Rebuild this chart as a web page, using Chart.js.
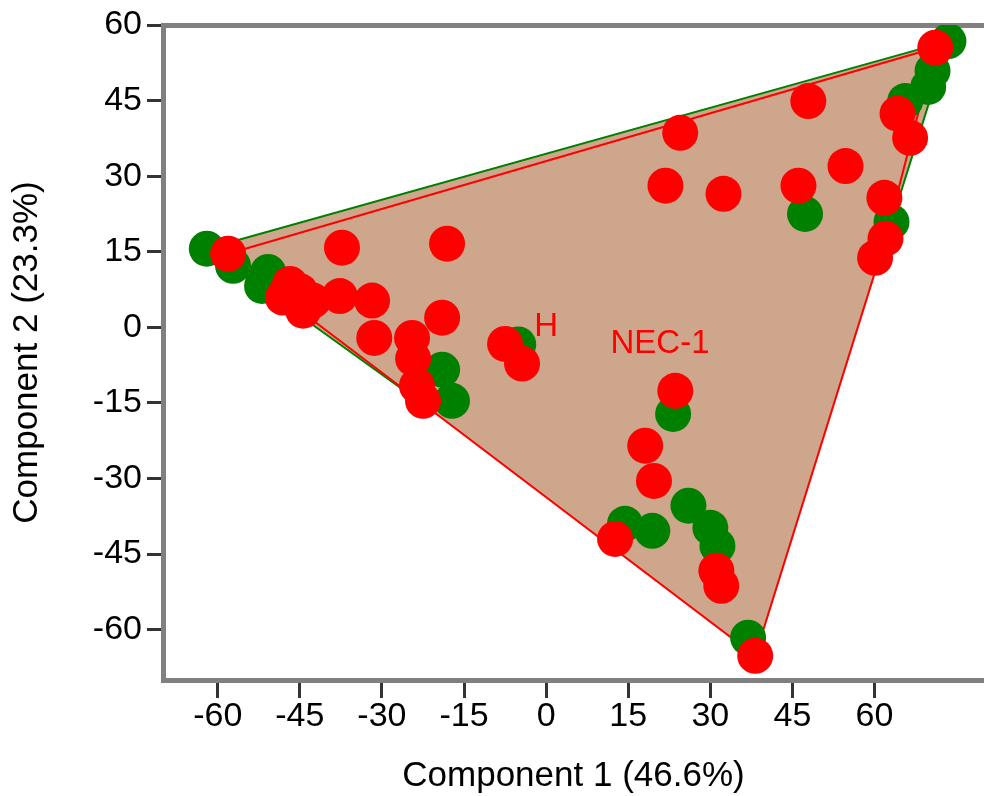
<!DOCTYPE html>
<html>
<head>
<meta charset="utf-8">
<script src="https://cdn.jsdelivr.net/npm/chart.js@4.4.0/dist/chart.umd.min.js"></script>
<style>
  html, body { margin: 0; padding: 0; background: #fff; }
  #wrap { width: 984px; height: 796px; position: relative; }
</style>
</head>
<body>
<div id="wrap"><canvas id="pca-chart"></canvas></div>
<script>
//Component scores, NEC-1 group (red)
const redX = [-58.1, -46.8, -45.0, -48.1, -44.4, -42.6, -37.7, -37.3, -31.8, -31.4,
  -18.1, -19.0, -24.5, -24.3, -23.6, -22.5, -7.5, -4.4, 23.6, 18.1,
  19.7, 12.6, 31.1, 32.0, 38.2, 24.5, 21.8, 32.4, 47.9, 46.1,
  54.7, 61.8, 62.0, 60.1, 64.2, 66.5, 71.1];
const redY = [14.6, 8.6, 7.2, 5.9, 3.3, 5.3, 6.2, 15.8, 5.3, -2.1,
  16.6, 1.9, -2.1, -6.2, -11.6, -14.6, -3.3, -7.2, -12.6, -23.5,
  -30.5, -42.0, -48.3, -51.3, -65.2, 38.6, 28.1, 26.5, 44.9, 28.1,
  32.0, 25.7, 17.6, 13.8, 42.4, 37.6, 55.5];

//Component scores, H group (green)
const greenX = [-62.0, -57.2, -50.8, -51.9, -19.0, -17.2, -5.1, 23.2, 14.4, 19.4,
  26.0, 30.0, 31.3, 36.9, 47.3, 63.1, 65.6, 70.6, 69.8, 73.5];
const greenY = [15.6, 12.2, 11.0, 8.2, -8.4, -14.6, -3.4, -17.2, -39.0, -40.4,
  -35.4, -39.8, -43.4, -61.6, 22.5, 20.9, 44.9, 50.9, 47.7, 56.8];

const xTicks = [-60, -45, -30, -15, 0, 15, 30, 45, 60];
const yTicks = [-60, -45, -30, -15, 0, 15, 30, 45, 60];

//Group labels inside the plot
const groupNames = ["H", "NEC-1"];
const groupLabelX = [0, 20.8];
const groupLabelY = [0, -3.3];

const toPoints = (xs, ys) => xs.map((x, i) => ({ x: x, y: ys[i] }));

//Convex hull (monotone chain), closed back to the first point
const convexHull = (pts) => {
  const p = pts.slice().sort((a, b) => a.x - b.x || a.y - b.y);
  const cross = (o, a, b) => (a.x - o.x) * (b.y - o.y) - (a.y - o.y) * (b.x - o.x);
  const lower = [];
  const upper = [];
  p.forEach(q => {
    while (lower.length >= 2 && cross(lower[lower.length - 2], lower[lower.length - 1], q) <= 0) lower.pop();
    lower.push(q);
  });
  p.slice().reverse().forEach(q => {
    while (upper.length >= 2 && cross(upper[upper.length - 2], upper[upper.length - 1], q) <= 0) upper.pop();
    upper.push(q);
  });
  const h = lower.slice(0, -1).concat(upper.slice(0, -1));
  h.push(h[0]);
  return h;
};

const redPoints = toPoints(redX, redY);
const greenPoints = toPoints(greenX, greenY);

const hullFill = '#cda68c';
const fontFamily = "'Liberation Sans', Arial, sans-serif";
const tickFont = { family: fontFamily, size: 34, lineHeight: 1 };
const titleFont = { family: fontFamily, size: 35, lineHeight: 1.1 };

const groupText = {
  id: 'groupText',
  afterDatasetsDraw(chart) {
    const { ctx, scales } = chart;
    ctx.save();
    ctx.font = '33px ' + fontFamily;
    ctx.fillStyle = '#ff0000';
    ctx.textAlign = 'center';
    ctx.textBaseline = 'middle';
    groupNames.forEach((name, i) => {
      ctx.fillText(name, scales.x.getPixelForValue(groupLabelX[i]), scales.y.getPixelForValue(groupLabelY[i]));
    });
    ctx.restore();
  }
};

const pcaCanvas = document.getElementById("pca-chart");

let pcaChart = new Chart(pcaCanvas, {
  type: 'scatter',
  data: {
    datasets: [
      {
        type: 'line',
        data: convexHull(greenPoints),
        borderColor: '#008000',
        borderWidth: 2,
        backgroundColor: hullFill,
        fill: 'shape',
        tension: 0,
        pointRadius: 0,
        order: 4
      },
      {
        type: 'line',
        data: convexHull(redPoints),
        borderColor: '#ff0000',
        borderWidth: 2,
        backgroundColor: hullFill,
        fill: 'shape',
        tension: 0,
        pointRadius: 0,
        order: 3
      },
      {
        data: greenPoints,
        backgroundColor: '#008000',
        borderWidth: 0,
        pointRadius: 18,
        pointHoverRadius: 18,
        order: 2
      },
      {
        data: redPoints,
        backgroundColor: '#ff0000',
        borderWidth: 0,
        pointRadius: 18,
        pointHoverRadius: 18,
        order: 1
      }
    ]
  },
  options: {
    responsive: true,
    maintainAspectRatio: false,
    animation: false,
    events: [],
    layout: { padding: 0, autoPadding: false },
    scales: {
      x: {
        type: 'linear',
        position: 'bottom',
        min: -70,
        max: 80,
        afterBuildTicks: s => { s.ticks = xTicks.map(v => ({ value: v })); },
        afterFit: s => { s.height = 116; },
        grid: { drawOnChartArea: false, drawTicks: true, tickLength: 18, lineWidth: 3, tickWidth: 3, tickColor: '#333' },
        border: { color: '#808080', width: 5 },
        ticks: { color: '#000', font: tickFont, padding: 2, maxRotation: 0, autoSkip: false },
        title: { display: true, text: 'Component 1 (46.6%)', color: '#000', font: titleFont, padding: 0 }
      },
      xTop: {
        type: 'linear',
        position: 'top',
        grid: { display: false },
        ticks: { display: false },
        border: { color: '#808080', width: 5 },
        afterFit: s => { s.height = 25; }
      },
      y: {
        type: 'linear',
        min: -70,
        max: 60,
        afterBuildTicks: s => { s.ticks = yTicks.map(v => ({ value: v })); },
        afterFit: s => { s.width = 163; },
        grid: { drawOnChartArea: false, drawTicks: true, tickLength: 16, lineWidth: 3, tickWidth: 3, tickColor: '#333' },
        border: { color: '#808080', width: 5 },
        ticks: { color: '#000', font: tickFont, padding: 5, autoSkip: false },
        title: { display: true, text: 'Component 2 (23.3%)', color: '#000', font: titleFont, padding: { top: 8, bottom: 0 } }
      }
    },
    plugins: {
      legend: { display: false },
      tooltip: { enabled: false }
    }
  },
  plugins: [groupText]
});
</script>
</body>
</html>
